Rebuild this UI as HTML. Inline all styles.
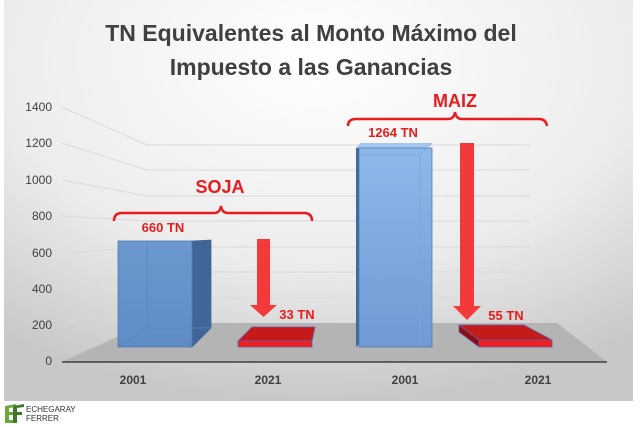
<!DOCTYPE html>
<html><head><meta charset="utf-8"><style>
html,body{margin:0;padding:0;background:#fff;width:640px;height:427px;overflow:hidden}
svg{display:block}
text{font-family:"Liberation Sans",sans-serif}
</style></head><body>
<svg width="640" height="427" viewBox="0 0 640 427">
<defs>
<radialGradient id="bg" cx="0.5" cy="0.15" r="0.85">
<stop offset="0" stop-color="#ffffff"/><stop offset="0.6" stop-color="#ececec"/><stop offset="1" stop-color="#c8c8c8"/>
</radialGradient>
<linearGradient id="b1" x1="0" y1="0" x2="0" y2="1"><stop offset="0" stop-color="#6c98cf"/><stop offset="1" stop-color="#5f8cc6"/></linearGradient>
<linearGradient id="b3" x1="0" y1="0" x2="0" y2="1"><stop offset="0" stop-color="#8fb8ea"/><stop offset="1" stop-color="#6f9ad4"/></linearGradient>
</defs>
<rect x="4" y="0" width="629" height="401" fill="url(#bg)"/>
<!-- gridlines -->
<g stroke="#d9d9d9" stroke-width="1" fill="none">
<polyline points="62,107 147,145 530,145"/>
<polyline points="62,143 147,170 530,170"/>
<polyline points="62,180 147,196 530,196"/>
<polyline points="62,216 147,221 530,221"/>
<polyline points="62,253 147,247 530,247"/>
<polyline points="62,289 147,272 530,272"/>
<polyline points="62,325 147,298 530,298"/>
</g>
<!-- floor -->
<polygon points="62,362 607,362 557,323 147,323" fill="#b4b4b4"/>
<line x1="62" y1="362" x2="607" y2="362" stroke="#404040" stroke-width="1.5"/>
<!-- y labels -->
<g font-size="12" fill="#404040" text-anchor="end">
<text x="52" y="111">1400</text><text x="52" y="147">1200</text><text x="52" y="184">1000</text>
<text x="52" y="220">800</text><text x="52" y="257">600</text><text x="52" y="293">400</text>
<text x="52" y="329">200</text><text x="52" y="365">0</text>
</g>
<!-- bar 1 -->
<polygon points="192,241 211,240 211,328 192,347" fill="#3f6697" stroke="#3f6a9e" stroke-width="0.8"/>
<rect x="118" y="241" width="74" height="106" fill="url(#b1)" stroke="#4f7bb4" stroke-width="0.8"/>
<line x1="147" y1="241" x2="147" y2="328" stroke="#5a85bd" stroke-width="0.8"/>
<line x1="118" y1="347" x2="147" y2="328" stroke="#5a85bd" stroke-width="0.8"/>
<line x1="147" y1="328" x2="211" y2="328" stroke="#5a85bd" stroke-width="0.8"/>
<!-- bar 3 -->
<polygon points="356,148 361,143 361,342 356,347" fill="#3f6a9e"/>
<polygon points="356,148 361,143 432,143 426,148" fill="#a4c6ef"/>
<rect x="359" y="148" width="73" height="199" fill="url(#b3)" stroke="#4f7bb4" stroke-width="0.8"/>
<line x1="359" y1="155" x2="420" y2="155" stroke="#7aa4da" stroke-width="0.8"/>
<line x1="420" y1="155" x2="432" y2="143" stroke="#7aa4da" stroke-width="0.8"/>
<line x1="420" y1="155" x2="420" y2="347" stroke="#7aa4da" stroke-width="0.8"/>
<!-- red slab 1 -->
<polygon points="238,341 252,327 315,327 312,341" fill="#c41a1a" stroke="#6a5aa8" stroke-width="0.8"/>
<rect x="238" y="341" width="74" height="6" fill="#ee2020" stroke="#6a5aa8" stroke-width="0.8"/>
<!-- red slab 2 -->
<polygon points="459,325 479,340 479,347 459,332" fill="#8a1010" stroke="#6a5aa8" stroke-width="0.8"/>
<polygon points="459,325 524,325 552,340 479,340" fill="#c41a1a" stroke="#6a5aa8" stroke-width="0.8"/>
<rect x="479" y="340" width="73" height="7" fill="#ee2020" stroke="#6a5aa8" stroke-width="0.8"/>
<!-- arrows -->
<polygon points="257,239 270,239 270,305 277,305 263.5,317 250,305 257,305" fill="#f33a3a"/>
<polygon points="460,143 474,143 474,306 481,306 467,320 453,306 460,306" fill="#f33a3a"/>
<!-- braces -->
<g fill="none" stroke="#e81c1c" stroke-width="2.5">
<path d="M114,221 Q114,213 122,213 L214,213 Q220,213 221,206 Q222,213 228,213 L304,213 Q312,213 312,221"/>
<path d="M348,126 Q348,119 356,119 L448,119 Q454,119 455,112 Q456,119 462,119 L539,119 Q546,119 547,126"/>
</g>
<!-- labels -->
<g fill="#e81c1c" font-weight="bold" text-anchor="middle">
<text x="220" y="193" font-size="18">SOJA</text>
<text x="455" y="107" font-size="18">MAIZ</text>
<text x="163" y="232" font-size="13">660 TN</text>
<text x="393" y="137" font-size="13">1264 TN</text>
<text x="297" y="319" font-size="13">33 TN</text>
<text x="506" y="320" font-size="13">55 TN</text>
</g>
<g font-size="12" font-weight="bold" fill="#404040" text-anchor="middle">
<text x="133" y="384">2001</text><text x="268" y="384">2021</text>
<text x="405" y="384">2001</text><text x="538" y="384">2021</text>
</g>
<!-- title -->
<g font-size="23" font-weight="bold" fill="#404040" text-anchor="middle">
<text x="311" y="41">TN Equivalentes al Monto Máximo del</text>
<text x="311" y="75">Impuesto a las Ganancias</text>
</g>
<!-- logo -->
<g>
<polygon points="5,406 16,404 16,407 9,408 9,412 14,412 14,415 9,415 9,420 16,420 16,423 5,423" fill="#6aa83a"/>
<polygon points="13,406 24,404 24,407 17,408 17,412 22,412 22,415 17,415 17,423 13,423" fill="#3c7a2a"/>
<text x="26" y="412" font-size="8" fill="#333">ECHEGARAY</text>
<text x="26" y="421" font-size="8" fill="#333">FERRER</text>
</g>
</svg>
</body></html>
